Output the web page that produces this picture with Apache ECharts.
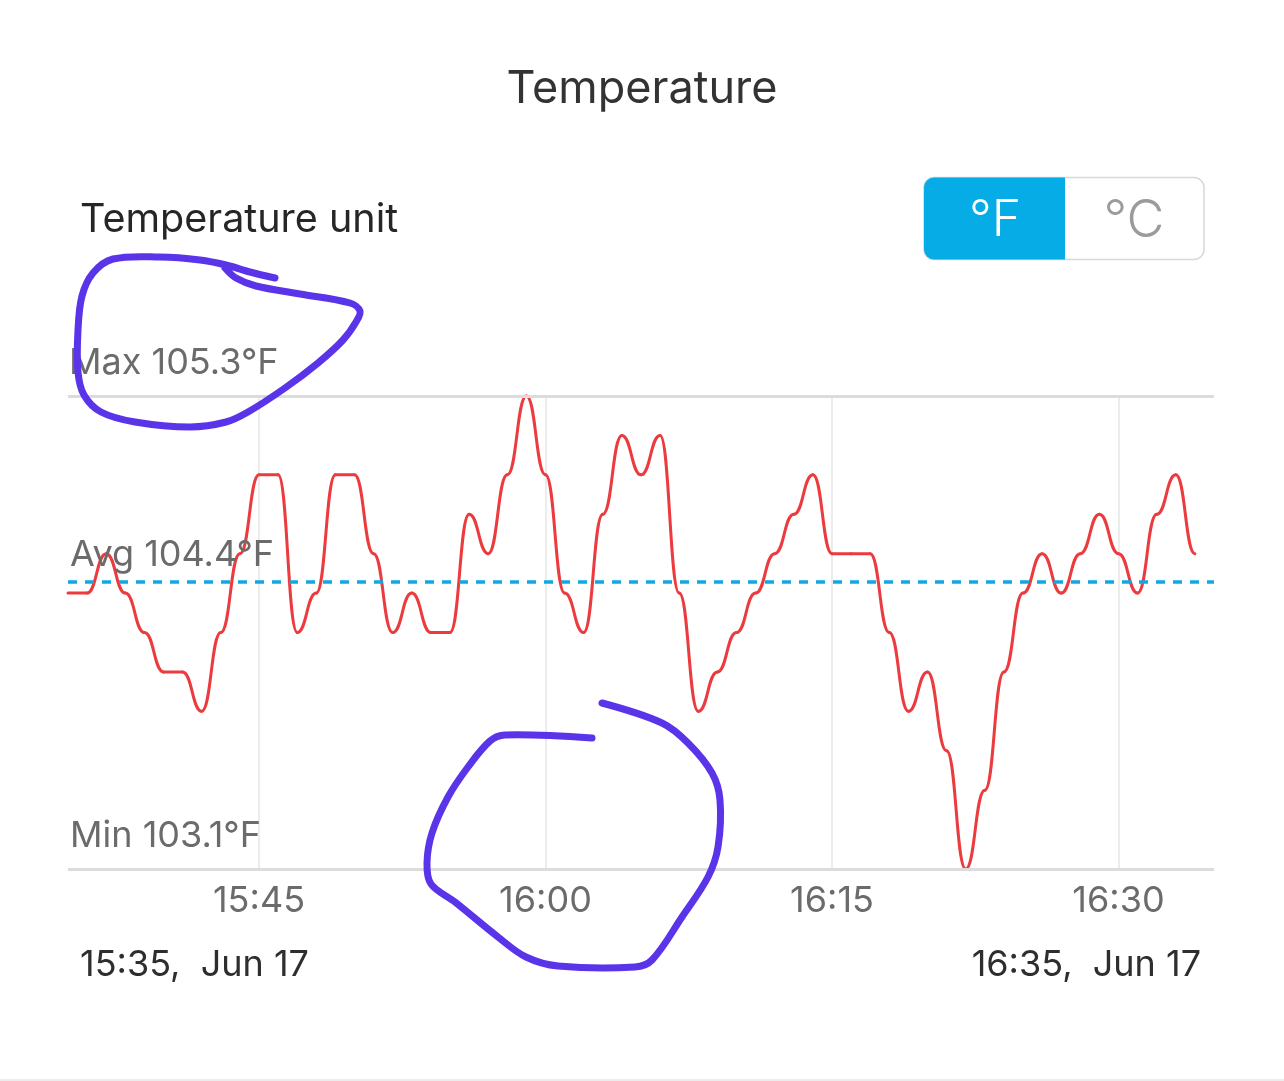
<!DOCTYPE html>
<html>
<head>
<meta charset="utf-8">
<script src="https://cdn.jsdelivr.net/npm/echarts@6/dist/echarts.min.js"></script>
<style>
html,body{margin:0;padding:0;background:#ffffff;}
#chart{width:1284px;height:1081px;}
</style>
</head>
<body>
<div id="chart"></div>
<script>
// ---------- data ----------
const chartTitle = 'Temperature';
const unitLabel = 'Temperature unit';
const unitOptions = ['°F', '°C'];
const startLabel = '15:35,  Jun 17';
const endLabel = '16:35,  Jun 17';
const tickLabels = ['15:45', '16:00', '16:15', '16:30'];

// one reading per minute, 15:35 ... 16:34 (°F)
const tempF = [
  104.36, 104.36, 104.54, 104.36, 104.18, 104.00, 104.00, 103.82, 104.18, 104.54,
  104.90, 104.90, 104.18, 104.36, 104.90, 104.90, 104.54, 104.18, 104.36, 104.18,
  104.18, 104.72, 104.54, 104.90, 105.26, 104.90, 104.36, 104.18, 104.72, 105.08,
  104.90, 105.08, 104.36, 103.82, 104.00, 104.18, 104.36, 104.54, 104.72, 104.90,
  104.54, 104.54, 104.54, 104.18, 103.82, 104.00, 103.64, 103.10, 103.46, 104.00,
  104.36, 104.54, 104.36, 104.54, 104.72, 104.54, 104.36, 104.72, 104.90, 104.54
];

// time categories 15:35 ... 16:35
const timeCategories = [];
for (let m = 35; m <= 95; m++) {
  const h = 15 + Math.floor(m / 60);
  const mm = m % 60;
  timeCategories.push(h + ':' + (mm < 10 ? '0' + mm : '' + mm));
}

// ---------- styles ----------
const FONT = "Inter, Roboto, 'Noto Sans', sans-serif";
const GRAY_TXT = '#6b6b6b';
const RED = '#EC3B3F';
const BLUE = '#0DA9E2';
const PURPLE = '#5A34E8';

const segments = tempF.slice(0, -1).map((v, i) => [i, v, tempF[i + 1]]);
const isTick = (i, v) => tickLabels.indexOf(v) >= 0;

const annot1 = [[225,268],[236,278],[256,286],[300,294],[350,303],[360,311],[356,322],[343,340],[318,363],[285,388],[248,412],[226,422],[190,427],[135,422],[101,412],[84,395],[78,372],[78,330],[82,296],[93,273],[113,259],[160,257],[200,260],[226,265],[250,272],[275,278]];
const annot2 = [[592,738],[505,735],[490,741],[468,767],[448,797],[432,833],[427,863],[431,884],[455,902],[498,937],[526,957],[558,966],[635,967],[652,960],[682,917],[708,877],[718,847],[720,800],[712,773],[688,743],[662,723],[602,703]];

const chart = echarts.init(document.getElementById('chart'), null, {renderer: 'canvas'});

const option = {
  animation: false,
  backgroundColor: '#ffffff',
  grid: {left: 68, right: 70, top: 396, bottom: 212, containLabel: false},
  xAxis: {
    type: 'category',
    boundaryGap: false,
    data: timeCategories,
    axisLine: {show: false},
    axisTick: {show: false},
    axisLabel: {
      interval: isTick,
      color: GRAY_TXT,
      fontSize: 36,
      fontFamily: FONT,
      margin: 14
    },
    splitLine: {
      show: true,
      interval: isTick,
      lineStyle: {color: '#e6e6e6', width: 1.5}
    }
  },
  yAxis: {
    type: 'value',
    min: 103.1,
    max: 105.26,
    axisLine: {show: false},
    axisTick: {show: false},
    axisLabel: {show: false},
    splitLine: {show: false}
  },
  series: [
    {
      type: 'line',
      name: 'ref',
      data: tempF,
      showSymbol: false,
      silent: true,
      z: 2,
      lineStyle: {opacity: 0},
      markLine: {
        silent: true,
        symbol: 'none',
        precision: 2,
        label: {
          position: 'insideStartTop',
          color: GRAY_TXT,
          fontSize: 36,
          fontFamily: FONT
        },
        data: [
          {
            type: 'max',
            lineStyle: {color: '#dcdcdc', width: 3, type: 'solid'},
            label: {distance: [1, 15], formatter: p => 'Max ' + Number(p.value).toFixed(1) + '°F'}
          },
          {
            type: 'min',
            lineStyle: {color: '#dcdcdc', width: 3, type: 'solid'},
            label: {distance: [2, 15], formatter: p => 'Min ' + Number(p.value).toFixed(1) + '°F'}
          },
          {
            type: 'average',
            lineStyle: {color: BLUE, width: 3.5, type: [9, 8]},
            label: {distance: [2, 9], formatter: p => 'Avg ' + Number(p.value).toFixed(1) + '°F'}
          }
        ]
      }
    },
    {
      type: 'custom',
      name: 'Temperature',
      data: segments,
      encode: {x: 0, y: [1, 2]},
      silent: true,
      z: 3,
      renderItem: function (params, api) {
        const i = api.value(0);
        const p0 = api.coord([i, api.value(1)]);
        const p1 = api.coord([i + 1, api.value(2)]);
        const mx = (p0[0] + p1[0]) / 2;
        return {
          type: 'bezierCurve',
          shape: {
            x1: p0[0], y1: p0[1],
            cpx1: mx, cpy1: p0[1],
            cpx2: mx, cpy2: p1[1],
            x2: p1[0], y2: p1[1]
          },
          style: {stroke: RED, lineWidth: 3, fill: null, lineCap: 'round'}
        };
      }
    }
  ],
  graphic: [
    {type: 'text', x: 642, y: 89, z: 10,
      style: {text: chartTitle, font: '45px ' + FONT, fill: '#333333', align: 'center', verticalAlign: 'middle'}},
    {type: 'text', x: 80, y: 220, z: 10,
      style: {text: unitLabel, font: '39.5px ' + FONT, fill: '#262626', align: 'left', verticalAlign: 'middle'}},
    // toggle
    {type: 'rect', z: 10, shape: {x: 924, y: 177.5, width: 280, height: 82, r: 10},
      style: {fill: '#ffffff', stroke: '#d8d8d8', lineWidth: 1.5}},
    {type: 'rect', z: 11, shape: {x: 924, y: 177.5, width: 141, height: 82, r: [10, 0, 0, 10]},
      style: {fill: '#05ACE6'}},
    {type: 'text', x: 995, y: 221, z: 12,
      style: {text: unitOptions[0], font: '300 50px ' + FONT, fill: '#ffffff', align: 'center', verticalAlign: 'middle'}},
    {type: 'text', x: 1134, y: 221, z: 12,
      style: {text: unitOptions[1], font: '300 52px ' + FONT, fill: '#9b9b9b', align: 'center', verticalAlign: 'middle'}},
    // date labels
    {type: 'text', x: 80, y: 965, z: 10,
      style: {text: startLabel, font: '36px ' + FONT, fill: '#2e2e2e', align: 'left', verticalAlign: 'middle'}},
    {type: 'text', x: 1201, y: 965, z: 10,
      style: {text: endLabel, font: '36px ' + FONT, fill: '#2e2e2e', align: 'right', verticalAlign: 'middle'}},
    // bottom border
    {type: 'line', z: 10, shape: {x1: 0, y1: 1080, x2: 1284, y2: 1080},
      style: {stroke: '#ececec', lineWidth: 2}},
    // hand-drawn annotations
    {type: 'polyline', z: 100, shape: {points: annot1, smooth: 0.35},
      style: {stroke: PURPLE, lineWidth: 7, fill: null, lineCap: 'round', lineJoin: 'round'}},
    {type: 'polyline', z: 100, shape: {points: annot2, smooth: 0.35},
      style: {stroke: PURPLE, lineWidth: 7, fill: null, lineCap: 'round', lineJoin: 'round'}}
  ]
};

chart.setOption(option);
</script>
</body>
</html>
